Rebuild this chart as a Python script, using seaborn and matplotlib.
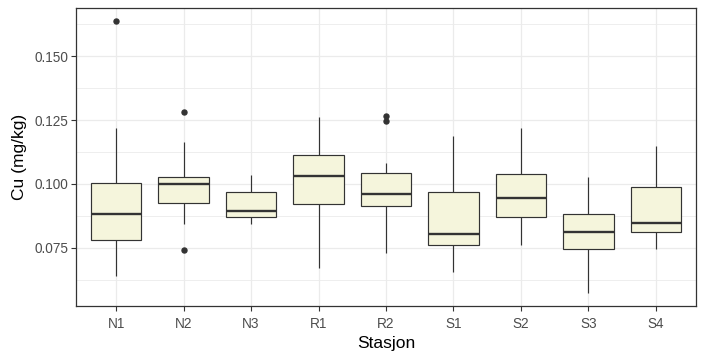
import numpy as np
import pandas as pd
import matplotlib
matplotlib.use("Agg")
import matplotlib.pyplot as plt
from matplotlib.ticker import FixedLocator
import seaborn as sns

stations = ["N1", "N2", "N3", "R1", "R2", "S1", "S2", "S3", "S4"]
whislo = [0.0641, 0.0844, 0.0844, 0.0670, 0.0729, 0.0654, 0.0761, 0.0572, 0.0745]
q1 = [0.0782, 0.0925, 0.0869, 0.0920, 0.0912, 0.0762, 0.0869, 0.0747, 0.0810]
med = [0.0883, 0.1001, 0.0895, 0.1033, 0.0962, 0.0804, 0.0946, 0.0812, 0.0848]
q3 = [0.1003, 0.1026, 0.0967, 0.1115, 0.1043, 0.0967, 0.1038, 0.0884, 0.0987]
whishi = [0.1219, 0.1163, 0.1035, 0.1264, 0.1083, 0.1189, 0.1221, 0.1028, 0.1150]
outliers_low = [[], [0.0743], [], [], [], [], [], [], []]
outliers_high = [[0.1637], [0.1283], [], [], [0.1245, 0.1268], [], [], [], []]

# Build long-form sample per station reproducing the read-off box statistics
rows = []
for i, s in enumerate(stations):
    vals = (list(outliers_low[i]) + [whislo[i]] + [q1[i]] * 10 + [med[i]] * 10
            + [q3[i]] * 10 + [whishi[i]] + list(outliers_high[i]))
    for v in vals:
        rows.append((s, v))
df = pd.DataFrame(rows, columns=["Stasjon", "Cu"])

sns.set_theme(style="white")
plt.rcParams["font.family"] = ["Liberation Sans", "DejaVu Sans"]

fig = plt.figure(figsize=(7.05, 3.6), dpi=100)
ax = fig.add_axes([0.1074, 0.15, 0.9877 - 0.1074, 0.977 - 0.15])

dark = "#333333"
grid = "#EBEBEB"

sns.boxplot(data=df, x="Stasjon", y="Cu", order=stations, ax=ax,
            color="#F5F5DC", saturation=1, linecolor=dark, linewidth=0.85,
            width=0.75, whis=1.5, fliersize=3.6, showcaps=False,
            flierprops=dict(marker="o", markerfacecolor=dark, markeredgecolor=dark),
            medianprops=dict(linewidth=1.7, color=dark), zorder=3)

ax.set_ylim(0.0522, 0.1688)
ax.set_xlim(-0.6, len(stations) - 1 + 0.6)
ax.yaxis.set_major_locator(FixedLocator([0.075, 0.100, 0.125, 0.150]))
ax.yaxis.set_minor_locator(FixedLocator([0.0625, 0.0875, 0.1125, 0.1375, 0.1625]))
ax.set_yticklabels(["0.075", "0.100", "0.125", "0.150"])

ax.set_axisbelow(True)
ax.grid(True, which="major", color=grid, linewidth=0.9, zorder=0)
ax.grid(True, which="minor", axis="y", color=grid, linewidth=0.6, zorder=0)

for sp in ax.spines.values():
    sp.set_visible(True)
    sp.set_color(dark)
    sp.set_linewidth(0.9)

ax.tick_params(axis="both", which="major", length=3.3, width=0.8, color=dark,
               labelcolor="#4D4D4D", labelsize=9.8, bottom=True, left=True)
ax.tick_params(axis="x", which="major", pad=4.5)
ax.tick_params(axis="y", which="major", pad=2.2)
ax.tick_params(axis="y", which="minor", length=0)

ax.set_xlabel("Stasjon", fontsize=12.5, color="black", labelpad=4)
ax.set_ylabel("Cu (mg/kg)", fontsize=12.5, color="black", labelpad=5)

fig.savefig("out.png", dpi=100)
